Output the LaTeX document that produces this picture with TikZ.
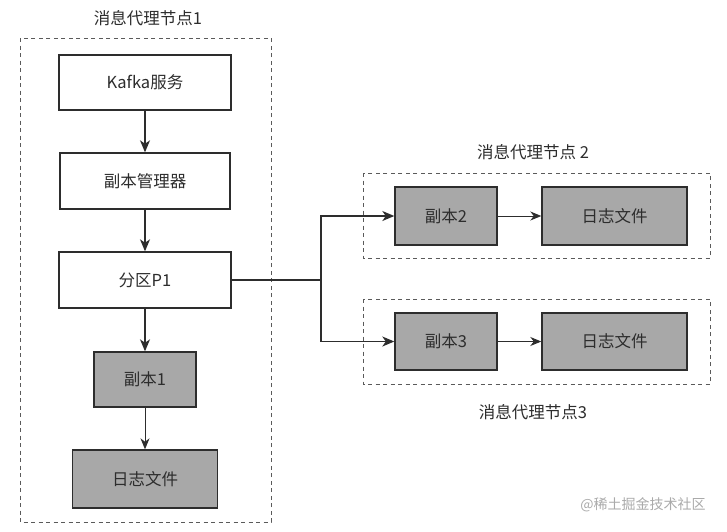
\documentclass[tikz,border=0pt]{standalone}
\usepackage{fontspec}
\newfontfamily\cjk{Noto Sans CJK SC}
\usetikzlibrary{arrows.meta}
\definecolor{boxgray}{RGB}{168,168,168}
\definecolor{ink}{RGB}{45,45,45}
\definecolor{dashgray}{RGB}{90,90,90}
\definecolor{wm}{RGB}{170,170,170}
\begin{document}
\begin{tikzpicture}[x=1pt,y=-1pt,
  box/.style={draw=ink, line width=1.4pt, rectangle, inner sep=0pt, font=\cjk\fontsize{16.5}{16.5}\selectfont, text=ink},
  gbox/.style={box, fill=boxgray},
  group/.style={draw=dashgray, line width=0.9pt, dash pattern=on 4pt off 3.5pt},
  title/.style={font=\cjk\fontsize{16.5}{16.5}\selectfont, text=ink, inner sep=0pt},
  arr/.style={draw=ink, line width=1.3pt, -{Stealth[length=12pt,width=10pt,inset=3.5pt]}},
  tarr/.style={draw=ink, line width=0.9pt, -{Stealth[length=11pt,width=9pt,inset=3.5pt]}}
]
\path[use as bounding box, fill=white] (0,0) rectangle (727,531);

% group boxes
\draw[group] (20,38) rectangle (271,522);
\draw[group] (363,173) rectangle (710,258);
\draw[group] (363,299) rectangle (710,384);

% titles
\node[title] (t1) at (148,18) {消息代理节点1};
\node[title] (t2) at (533,152) {消息代理节点 2};
\node[title] (t3) at (533,412) {消息代理节点3};

% left column
\node[box, minimum width=172pt, minimum height=55pt] (kafka) at (145,82.5) {Kafka服务};
\node[box, minimum width=170pt, minimum height=56pt] (mgr) at (145,181) {副本管理器};
\node[box, minimum width=172pt, minimum height=56pt] (p1) at (145,280) {分区P1};
\node[gbox, minimum width=102pt, minimum height=55pt] (r1) at (145,379.5) {副本1};
\node[gbox, minimum width=145pt, minimum height=58pt] (l1) at (145,479) {日志文件};

\draw[arr] (kafka.south) -- (mgr.north);
\draw[arr] (mgr.south) -- (p1.north);
\draw[arr] (p1.south) -- (r1.north);
\draw[tarr] (r1.south) -- (l1.north);

% right side
\node[gbox, minimum width=102pt, minimum height=58pt] (r2) at (446,216) {副本2};
\node[gbox, minimum width=145pt, minimum height=58pt] (l2) at (614.5,216) {日志文件};
\node[gbox, minimum width=102pt, minimum height=57pt] (r3) at (446,341.5) {副本3};
\node[gbox, minimum width=145pt, minimum height=57pt] (l3) at (614.5,341.5) {日志文件};

\coordinate (j) at (321,280);
\draw[draw=ink, line width=1.3pt] (p1.east) -- (j);
\draw[arr] (j) |- (r2.west);
\draw[arr] (j) |- (r3.west);
\draw[tarr] (r2.east) -- (l2.west);
\draw[tarr] (r3.east) -- (l3.west);

% watermark
\node[font=\cjk\fontsize{14}{14}\selectfont, text=wm, inner sep=0pt] (wmk) at (643,505) {@稀土掘金技术社区};
\end{tikzpicture}
\end{document}
